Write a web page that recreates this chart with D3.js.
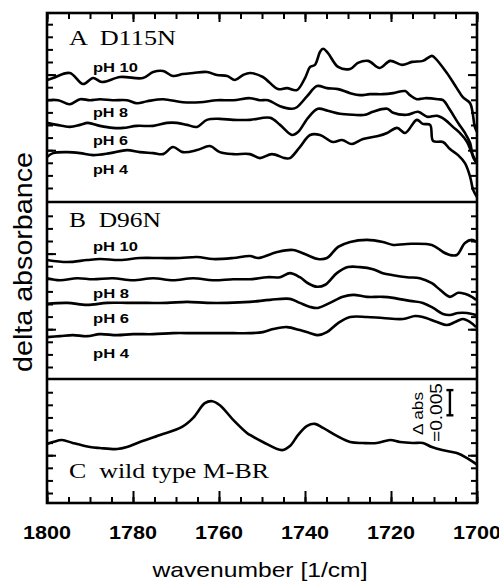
<!DOCTYPE html>
<html>
<head>
<meta charset="utf-8">
<script src="https://cdn.jsdelivr.net/npm/d3@7"></script>
<style>
  body { margin: 0; background: #fff; }
  text { fill: #000; white-space: pre; }
</style>
</head>
<body>
<svg id="chart" width="499" height="581"></svg>
<script>
// [wavenumber 1/cm, delta abs in 1e-3 units measured up from the panel floor]
var a_pH10 = [[1800,24.2],[1798.6,24.6],[1794.7,25.6],[1791.6,23.4],[1789.3,24.6],[1787.2,23.8],[1783,24.8],[1777.7,24.6],[1775.3,25.8],[1773,26.0],[1770.7,25.0],[1768.4,25.4],[1766,25.6],[1762.8,25.8],[1760.5,25.2],[1758.1,25.0],[1756.3,24.2],[1754.4,25.2],[1752.8,25.6],[1749.8,24.8],[1746.3,22.4],[1744.2,22.6],[1741.9,22.2],[1740,24.6],[1738.8,26.8],[1737.7,27.2],[1736.5,29.8],[1735.8,30.4],[1734.7,29.6],[1732.3,26.8],[1729.5,26.4],[1727.7,27.6],[1725.3,28.0],[1722.6,26.6],[1720.2,28.0],[1717.4,27.2],[1715.1,27.8],[1712.6,28.0],[1710.5,29.0],[1709.8,28.6],[1707,25.6],[1704.7,22.6],[1703.3,20.8],[1701.6,19.6],[1700.5,14.9],[1700,13.9]];
var a_pH8 = [[1800,20.2],[1797.4,20.2],[1794.7,19.4],[1792.3,20.4],[1790,20.2],[1787.7,20.4],[1784.7,20.2],[1781.4,20.2],[1779.1,19.6],[1776.7,20.0],[1773,20.4],[1768.4,19.8],[1764.4,19.8],[1760.5,20.2],[1756.7,20.2],[1752.8,20.6],[1750.5,20.2],[1748.6,20.2],[1745.8,19.0],[1743,18.5],[1741.9,18.8],[1739.5,21.0],[1737.2,23.0],[1734.9,22.6],[1732.3,22.4],[1729.5,21.6],[1727.2,21.2],[1724.9,21.4],[1721.9,21.4],[1719.5,21.6],[1716.7,22.0],[1715.6,21.2],[1714,20.4],[1712.1,20.6],[1709.1,20.4],[1707.9,20.2],[1706.3,18.3],[1704.4,15.7],[1702.8,13.7],[1701.6,11.7],[1700.9,8.9],[1700,7.7]];
var a_pH6 = [[1800,15.7],[1797.7,15.3],[1794.7,14.9],[1792.3,15.3],[1790.5,15.7],[1787.7,15.1],[1784.7,14.7],[1782.3,14.7],[1779.1,15.1],[1775.3,15.1],[1772.1,15.7],[1769.8,15.7],[1767.4,15.3],[1765.1,14.9],[1762.8,16.3],[1759.8,16.5],[1756.7,16.3],[1752.8,16.3],[1748.1,16.7],[1745.8,15.3],[1743,13.3],[1741.6,13.9],[1739.3,16.7],[1737,18.5],[1734.7,18.1],[1731.9,17.5],[1728.8,17.3],[1726,17.3],[1724.2,17.9],[1720.9,18.5],[1719.5,17.7],[1716.3,17.3],[1713.7,17.9],[1711.6,16.9],[1709.3,17.1],[1707.4,16.3],[1705.6,14.9],[1704,13.7],[1702.3,11.9],[1701.2,9.7],[1700,7.7]];
var a_pH4 = [[1800,8.9],[1798.6,9.7],[1795.3,9.9],[1792.3,9.7],[1789.3,9.3],[1785.3,9.7],[1781.4,10.3],[1778.4,9.9],[1775.3,9.7],[1773,9.5],[1770.7,10.9],[1768.4,9.9],[1765.1,10.3],[1762.1,11.1],[1759.8,9.9],[1756.7,9.5],[1752.8,9.5],[1750.5,8.7],[1747.7,9.5],[1744.7,8.7],[1743.5,8.7],[1741.2,10.9],[1738.8,13.3],[1736.5,13.3],[1733.5,11.9],[1731.4,12.3],[1729.1,11.5],[1726.5,12.5],[1723,13.1],[1720.9,13.7],[1718.6,14.7],[1716.7,13.7],[1714,16.3],[1712.6,15.5],[1710.9,15.3],[1710.2,12.1],[1707.9,11.9],[1706.3,10.5],[1704.4,9.3],[1702.8,7.7],[1701.6,5.0],[1700.9,2.4],[1700,1.0]];

var b_pH10 = [[1800,23.6],[1795.3,23.2],[1790.7,23.6],[1787.7,23.8],[1783,23.6],[1778.4,24.0],[1773.7,24.0],[1769.1,24.0],[1765.1,24.2],[1761.4,23.8],[1756.7,24.0],[1752.8,24.4],[1750.9,24.0],[1746.5,25.2],[1742.8,25.6],[1739.5,24.6],[1737,23.8],[1734.9,24.0],[1732.3,26.2],[1729.5,27.2],[1725.6,27.6],[1721.9,27.2],[1719.5,26.6],[1716.3,26.8],[1710.5,26.6],[1707.9,25.2],[1706.3,24.6],[1704.7,24.6],[1702.8,27.0],[1701.2,27.6],[1700.2,27.2]];
var b_pH8 = [[1800,20.0],[1797,19.6],[1793,20.0],[1789.3,19.8],[1784.7,20.0],[1780,19.6],[1775.3,20.0],[1770.7,19.6],[1766,20.0],[1761.4,19.6],[1756.7,19.8],[1752.8,19.8],[1748.8,20.2],[1745.8,20.2],[1743.5,21.0],[1741.2,20.2],[1739.3,19.0],[1737.2,18.3],[1735.3,18.7],[1732.6,21.0],[1730,22.2],[1727.2,22.2],[1724.2,21.8],[1721.9,21.0],[1719.5,20.6],[1716.3,20.2],[1713.3,20.0],[1710.5,19.0],[1708.6,17.7],[1706.3,16.3],[1704.4,17.1],[1702.8,16.9],[1701.2,16.3],[1700.2,15.7]];
var b_pH6 = [[1800,14.9],[1795.3,15.1],[1790.7,14.7],[1786,15.1],[1781.4,15.1],[1776.7,15.1],[1772.1,15.1],[1767.4,15.3],[1762.8,15.1],[1758.1,15.1],[1752.8,15.3],[1748.1,15.7],[1743.5,15.9],[1741.2,15.1],[1738.8,14.3],[1737,14.1],[1734.2,15.1],[1731.2,16.3],[1728.8,16.7],[1725.6,16.3],[1721.9,16.3],[1719.5,16.1],[1715.6,15.5],[1712.6,15.1],[1710.2,14.1],[1707.9,12.9],[1706.3,12.7],[1704.4,13.1],[1702.3,13.1],[1700.2,12.7]];
var b_pH4 = [[1800,8.3],[1797,8.5],[1794,8.7],[1790.7,8.5],[1787.7,8.9],[1783.7,8.7],[1780,8.9],[1775.3,8.9],[1770.7,9.1],[1766,9.1],[1761.4,9.1],[1756.7,9.1],[1752.8,9.1],[1749.8,9.3],[1747.4,9.9],[1744.2,10.3],[1741.2,9.7],[1738.8,9.1],[1737,8.7],[1734.9,9.3],[1732.3,11.1],[1729.5,12.3],[1725.6,12.3],[1721.9,12.1],[1717.2,11.9],[1714.4,12.5],[1712.6,12.3],[1709.3,11.3],[1707,10.7],[1705.1,11.3],[1703.3,11.9],[1701.6,11.3],[1700.2,10.3]];

var c_wt = [[1800,11.7],[1798.6,12.1],[1796.5,12.5],[1794,11.9],[1790,11.1],[1787.7,10.9],[1783.7,10.7],[1781.4,11.1],[1778.4,12.1],[1773.7,13.5],[1768.6,15.1],[1766,16.9],[1763.3,19.8],[1761.6,20.2],[1759.8,19.4],[1756.7,16.5],[1753.5,13.9],[1752.8,13.5],[1749.8,12.1],[1745.3,10.5],[1743.5,11.3],[1741.6,13.5],[1739.5,15.3],[1737.7,15.7],[1735.8,14.9],[1732.6,13.3],[1729.5,12.1],[1726.5,11.9],[1723.3,11.9],[1720.2,12.5],[1717.9,12.1],[1714.9,11.9],[1712.6,11.9],[1710.5,11.1],[1708.1,10.5],[1704.7,9.9],[1702.3,8.9],[1700.5,7.9],[1700,7.6]];

var xMajor = [1800, 1780, 1760, 1740, 1720, 1700];
var xMinor = d3.range(1800, 1699, -5);
var scaleBar = { wn: 1706.3, from: 17.4, to: 22.4 }; // 0.005 abs

var svg = d3.select("#chart");
var L = 47, R = 477, T = 13, B = 503;
var pxPerUnit = 5.04;

var x = d3.scaleLinear().domain([1800, 1700]).range([L, R]);

var panels = [
  { top: T,   bottom: 202, tick0: 2.78, title: "A  D115N", titleW: 107, titleY: 45, titleSize: 20,
    series: [a_pH10, a_pH8, a_pH6, a_pH4],
    labels: [["pH 10", 72, 45], ["pH 8", 117, 35], ["pH 6", 145, 35], ["pH 4", 174, 35]] },
  { top: 202, bottom: 379, tick0: 2.38, title: "B  D96N", titleW: 92, titleY: 227, titleSize: 20,
    series: [b_pH10, b_pH8, b_pH6, b_pH4],
    labels: [["pH 10", 251, 45], ["pH 8", 298, 36], ["pH 6", 323, 36], ["pH 4", 358, 36]] },
  { top: 379, bottom: B,  tick0: 1.98, title: "C  wild type M-BR", titleW: 200, titleY: 478, titleSize: 21,
    series: [c_wt], labels: [] }
];

var line = d3.line().curve(d3.curveCatmullRom.alpha(0.5));

panels.forEach(function (p) {
  var y = d3.scaleLinear().domain([0, (p.bottom - p.top) / pxPerUnit]).range([p.bottom, p.top]);
  var vals = d3.range(p.tick0, y.domain()[1] - 0.5, 2.5);
  var longVals = vals.filter(function (d, i) { return i % 6 == 3; });

  [[d3.axisLeft, L], [d3.axisRight, R]].forEach(function (a) {
    var g = svg.append("g").attr("transform", "translate(" + a[1] + ",0)")
      .call(a[0](y).tickValues(vals).tickSize(-6).tickFormat(""));
    g.select(".domain").remove();
    var g2 = svg.append("g").attr("transform", "translate(" + a[1] + ",0)")
      .call(a[0](y).tickValues(longVals).tickSize(-9).tickFormat(""));
    g2.select(".domain").remove();
  });

  svg.append("g").selectAll("path").data(p.series).enter().append("path")
    .attr("d", function (s) { return line(s.map(function (d) { return [x(d[0]), y(d[1])]; })); })
    .attr("fill", "none").attr("stroke", "#000").attr("stroke-width", 2.6)
    .attr("stroke-linejoin", "round");

  svg.append("text").attr("x", 69).attr("y", p.titleY)
    .attr("font-family", "Liberation Serif").attr("font-size", p.titleSize)
    .attr("textLength", p.titleW).attr("lengthAdjust", "spacingAndGlyphs")
    .text(p.title);

  p.labels.forEach(function (l) {
    svg.append("text").attr("x", 93).attr("y", l[1])
      .attr("font-family", "Liberation Sans").attr("font-weight", "bold").attr("font-size", 13.5)
      .attr("textLength", l[2]).attr("lengthAdjust", "spacingAndGlyphs")
      .text(l[0]);
  });

  if (p.series[0] === c_wt) {
    var sb = svg.append("g").attr("stroke", "#000").attr("stroke-width", 2.4);
    sb.append("line").attr("x1", x(scaleBar.wn)).attr("x2", x(scaleBar.wn))
      .attr("y1", y(scaleBar.from)).attr("y2", y(scaleBar.to));
    [scaleBar.from, scaleBar.to].forEach(function (v) {
      sb.append("line").attr("x1", x(scaleBar.wn) - 3.5).attr("x2", x(scaleBar.wn) + 3.5)
        .attr("y1", y(v)).attr("y2", y(v));
    });
  }
});

// bottom + top ticks (inward)
function xTicks(axis, ypos, vals, size) {
  var g = svg.append("g").attr("transform", "translate(0," + ypos + ")")
    .call(axis(x).tickValues(vals).tickSize(size).tickFormat(""));
  g.select(".domain").remove();
}
xTicks(d3.axisBottom, B, xMinor, -6);
xTicks(d3.axisBottom, B, xMajor, -12);
xTicks(d3.axisTop, T, xMinor, -6);
xTicks(d3.axisTop, T, xMajor, -9);
svg.selectAll(".tick line").attr("stroke-width", 2);

// frame and panel dividers
svg.append("rect").attr("x", L).attr("y", T).attr("width", R - L).attr("height", B - T)
  .attr("fill", "none").attr("stroke", "#000").attr("stroke-width", 2.6);
[202, 379].forEach(function (yy) {
  svg.append("line").attr("x1", L).attr("x2", R).attr("y1", yy).attr("y2", yy)
    .attr("stroke", "#000").attr("stroke-width", 2.6);
});

// x tick labels
svg.append("g").selectAll("text").data(xMajor).enter().append("text")
  .attr("x", function (d) { return x(d); }).attr("y", 539)
  .attr("text-anchor", "middle")
  .attr("font-family", "Liberation Sans").attr("font-weight", "bold").attr("font-size", 18)
  .attr("textLength", 48).attr("lengthAdjust", "spacingAndGlyphs")
  .text(function (d) { return d; });

svg.append("text").attr("x", 260).attr("y", 577).attr("text-anchor", "middle")
  .attr("font-family", "Liberation Sans").attr("font-size", 21)
  .attr("textLength", 215).attr("lengthAdjust", "spacingAndGlyphs")
  .text("wavenumber [1/cm]");

svg.append("text").attr("transform", "translate(32,262) rotate(-90)").attr("text-anchor", "middle")
  .attr("font-family", "Liberation Sans").attr("font-size", 25)
  .attr("textLength", 220).attr("lengthAdjust", "spacingAndGlyphs")
  .text("delta absorbance");

svg.append("text").attr("transform", "translate(423,413.5) rotate(-90)").attr("text-anchor", "middle")
  .attr("font-family", "Liberation Sans").attr("font-size", 14)
  .attr("textLength", 43).attr("lengthAdjust", "spacingAndGlyphs")
  .text("\u0394 abs");
svg.append("text").attr("transform", "translate(442,412.5) rotate(-90)").attr("text-anchor", "middle")
  .attr("font-family", "Liberation Sans").attr("font-size", 16)
  .attr("textLength", 59).attr("lengthAdjust", "spacingAndGlyphs")
  .text("=0.005");
</script>
</body>
</html>
